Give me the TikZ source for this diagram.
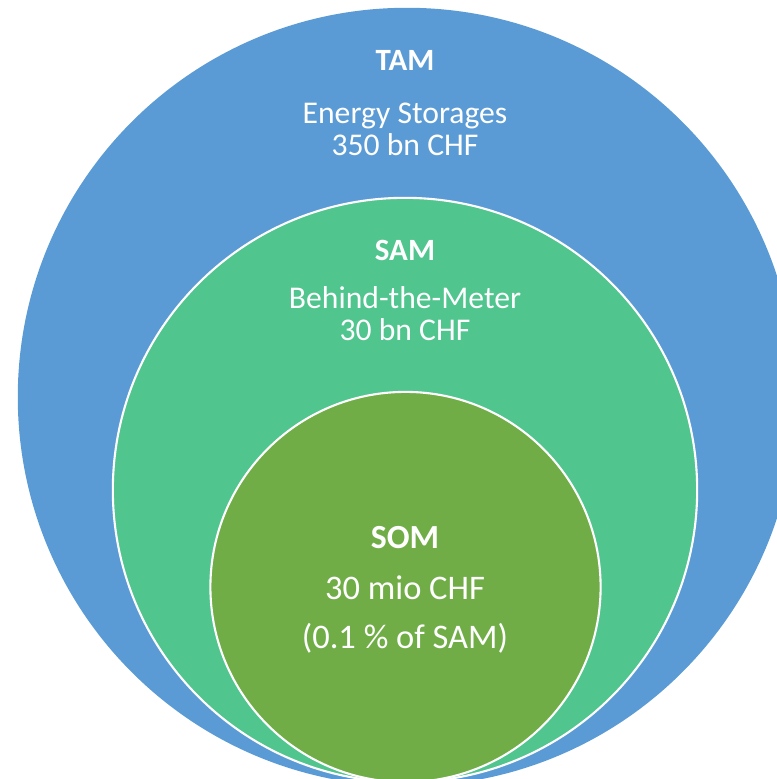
\documentclass[tikz,border=0pt]{standalone}
\usepackage{fontspec}
\setmainfont{Carlito}
\definecolor{tamblue}{RGB}{91,155,213}
\definecolor{samgreen}{RGB}{80,197,142}
\definecolor{somgreen}{RGB}{112,173,71}
\tikzset{
  market/.style={circle, inner sep=0pt, draw=white, line width=0.6pt},
  head/.style={text=white, font=\fontsize{8.8}{10}\selectfont\bfseries},
  figure/.style={text=white, align=center, font=\fontsize{9}{9.1}\selectfont},
  bighead/.style={head, font=\fontsize{9.6}{11}\selectfont\bfseries},
  bigfigure/.style={figure, font=\fontsize{9.8}{11}\selectfont}
}
\begin{document}
\begin{tikzpicture}[x=0.01cm, y=-0.01cm]
\useasboundingbox (0,0) rectangle (777,779);
\clip (0,0) rectangle (777,779);
% nested markets
\node[market, draw=none, fill=tamblue, minimum size=7.78cm] (tam) at (407,397) {};
\node[market, fill=samgreen, minimum size=5.84cm] (sam) at (405,490) {};
\node[market, fill=somgreen, minimum size=3.90cm] (som) at (405.5,587) {};
% labels
\node[head] (tamhead) at (405,60) {TAM};
\node[figure] (tamtext) at (405,129) {Energy Storages\\350 bn CHF};
\node[head] (samhead) at (405,250) {SAM};
\node[figure] (samtext) at (405,314) {Behind-the-Meter\\30 bn CHF};
\node[bighead] (somhead) at (405,538) {SOM};
\node[bigfigure] (somtext1) at (405,588) {30 mio CHF};
\node[bigfigure] (somtext2) at (405,638) {(0.1 \% of SAM)};
\end{tikzpicture}
\end{document}
